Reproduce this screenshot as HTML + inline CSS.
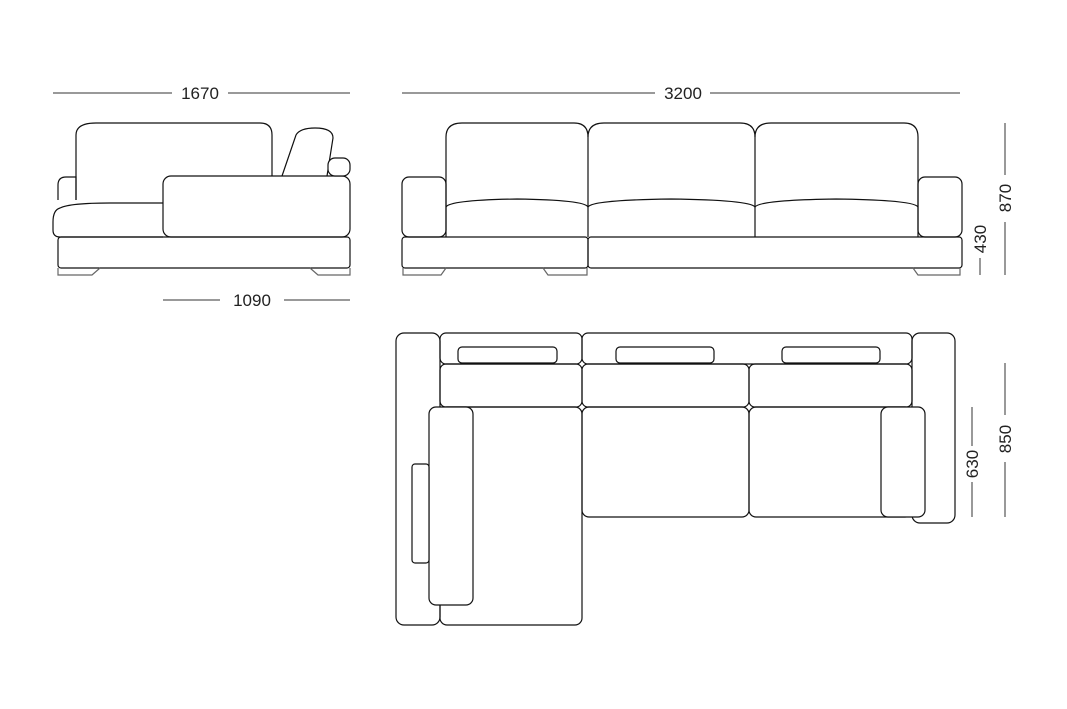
<!DOCTYPE html>
<html><head><meta charset="utf-8"><style>
html,body{margin:0;padding:0;background:#fff;}
svg{display:block;}
text{font-family:"Liberation Sans",sans-serif;font-size:17px;fill:#222;}
</style></head><body>
<svg width="1067" height="709" viewBox="0 0 1067 709" xmlns="http://www.w3.org/2000/svg">
<g fill="none" stroke="#111" stroke-width="1.2">
<g stroke="#333" stroke-width="1">
<line x1="53" y1="93" x2="172" y2="93"/><line x1="228" y1="93" x2="350" y2="93"/>
<line x1="402" y1="93" x2="655" y2="93"/><line x1="710" y1="93" x2="960" y2="93"/>
<line x1="163" y1="300" x2="220" y2="300"/><line x1="284" y1="300" x2="350" y2="300"/>
<line x1="980" y1="258" x2="980" y2="275"/>
<line x1="1005" y1="123" x2="1005" y2="175"/><line x1="1005" y1="222" x2="1005" y2="275"/>
<line x1="972" y1="407" x2="972" y2="446"/><line x1="972" y1="482" x2="972" y2="517"/>
<line x1="1005" y1="363" x2="1005" y2="415"/><line x1="1005" y1="462" x2="1005" y2="517"/>
</g>
<!-- side view -->
<path d="M76,200 V135 Q76,123 96,123 H260 Q272,123 272,135 V176"/>
<path d="M76,200 V177 H66 Q58,177 58,185 V200"/>
<path d="M163,203 H110 Q70,203 60,208 Q53,210 53,222 V230 Q53,237 60,237 H163"/>
<rect x="163" y="176" width="187" height="61" rx="8" fill="#fff"/>
<path d="M282,176 L296,135 Q300,128 315,128 Q333,128 333,138 L327,176"/>
<rect x="328" y="158" width="22" height="18" rx="7" fill="#fff"/>
<rect x="58" y="237" width="292" height="31" rx="3"/>
<path d="M58,268 V275 H92 L100,268" stroke="#666"/>
<path d="M310,268 L318,275 H350 V268" stroke="#666"/>
<!-- front view -->
<rect x="402" y="177" width="44" height="60" rx="7"/>
<rect x="918" y="177" width="44" height="60" rx="7"/>
<path d="M446,237 V137 Q446,123 462,123 H574 Q588,123 588,137 V237"/>
<path d="M588,137 Q588,123 604,123 H740 Q755,123 755,137 V237"/>
<path d="M755,137 Q755,123 771,123 H904 Q918,123 918,137 V237"/>
<path d="M446,207 Q450,200 517,199 Q585,200 588,207"/>
<path d="M588,207 Q592,200 671,199 Q750,200 755,207"/>
<path d="M755,207 Q760,200 836,199 Q914,200 918,207"/>
<rect x="402" y="237" width="186" height="31" rx="3"/>
<rect x="588" y="237" width="374" height="31" rx="3"/>
<path d="M403,268 V275 H441 L446,268" stroke="#666"/>
<path d="M543,268 L548,275 H587 V268" stroke="#666"/>
<path d="M913,268 L918,275 H960 V268" stroke="#666"/>
<!-- top view -->
<rect x="396" y="333" width="44" height="292" rx="8"/>
<rect x="440" y="333" width="142" height="31" rx="6"/>
<rect x="582" y="333" width="330" height="31" rx="6"/>
<rect x="458" y="347" width="99" height="16" rx="4"/>
<rect x="616" y="347" width="98" height="16" rx="4"/>
<rect x="782" y="347" width="98" height="16" rx="4"/>
<rect x="912" y="333" width="43" height="190" rx="8"/>
<rect x="440" y="364" width="142" height="43" rx="6"/>
<rect x="582" y="364" width="167" height="43" rx="6"/>
<rect x="749" y="364" width="163" height="43" rx="6"/>
<rect x="440" y="407" width="142" height="218" rx="7"/>
<rect x="582" y="407" width="167" height="110" rx="7"/>
<rect x="749" y="407" width="163" height="110" rx="7"/>
<rect x="429" y="407" width="44" height="198" rx="7" fill="#fff"/>
<rect x="412" y="464" width="17" height="99" rx="3" fill="#fff"/>
<rect x="881" y="407" width="44" height="110" rx="7" fill="#fff"/>
</g>
<text x="200" y="99" text-anchor="middle">1670</text>
<text x="683" y="99" text-anchor="middle">3200</text>
<text x="252" y="306" text-anchor="middle">1090</text>
<text transform="translate(986,239) rotate(-90)" text-anchor="middle">430</text>
<text transform="translate(1011,198) rotate(-90)" text-anchor="middle">870</text>
<text transform="translate(978,464) rotate(-90)" text-anchor="middle">630</text>
<text transform="translate(1011,439) rotate(-90)" text-anchor="middle">850</text>
</svg>
</body></html>
